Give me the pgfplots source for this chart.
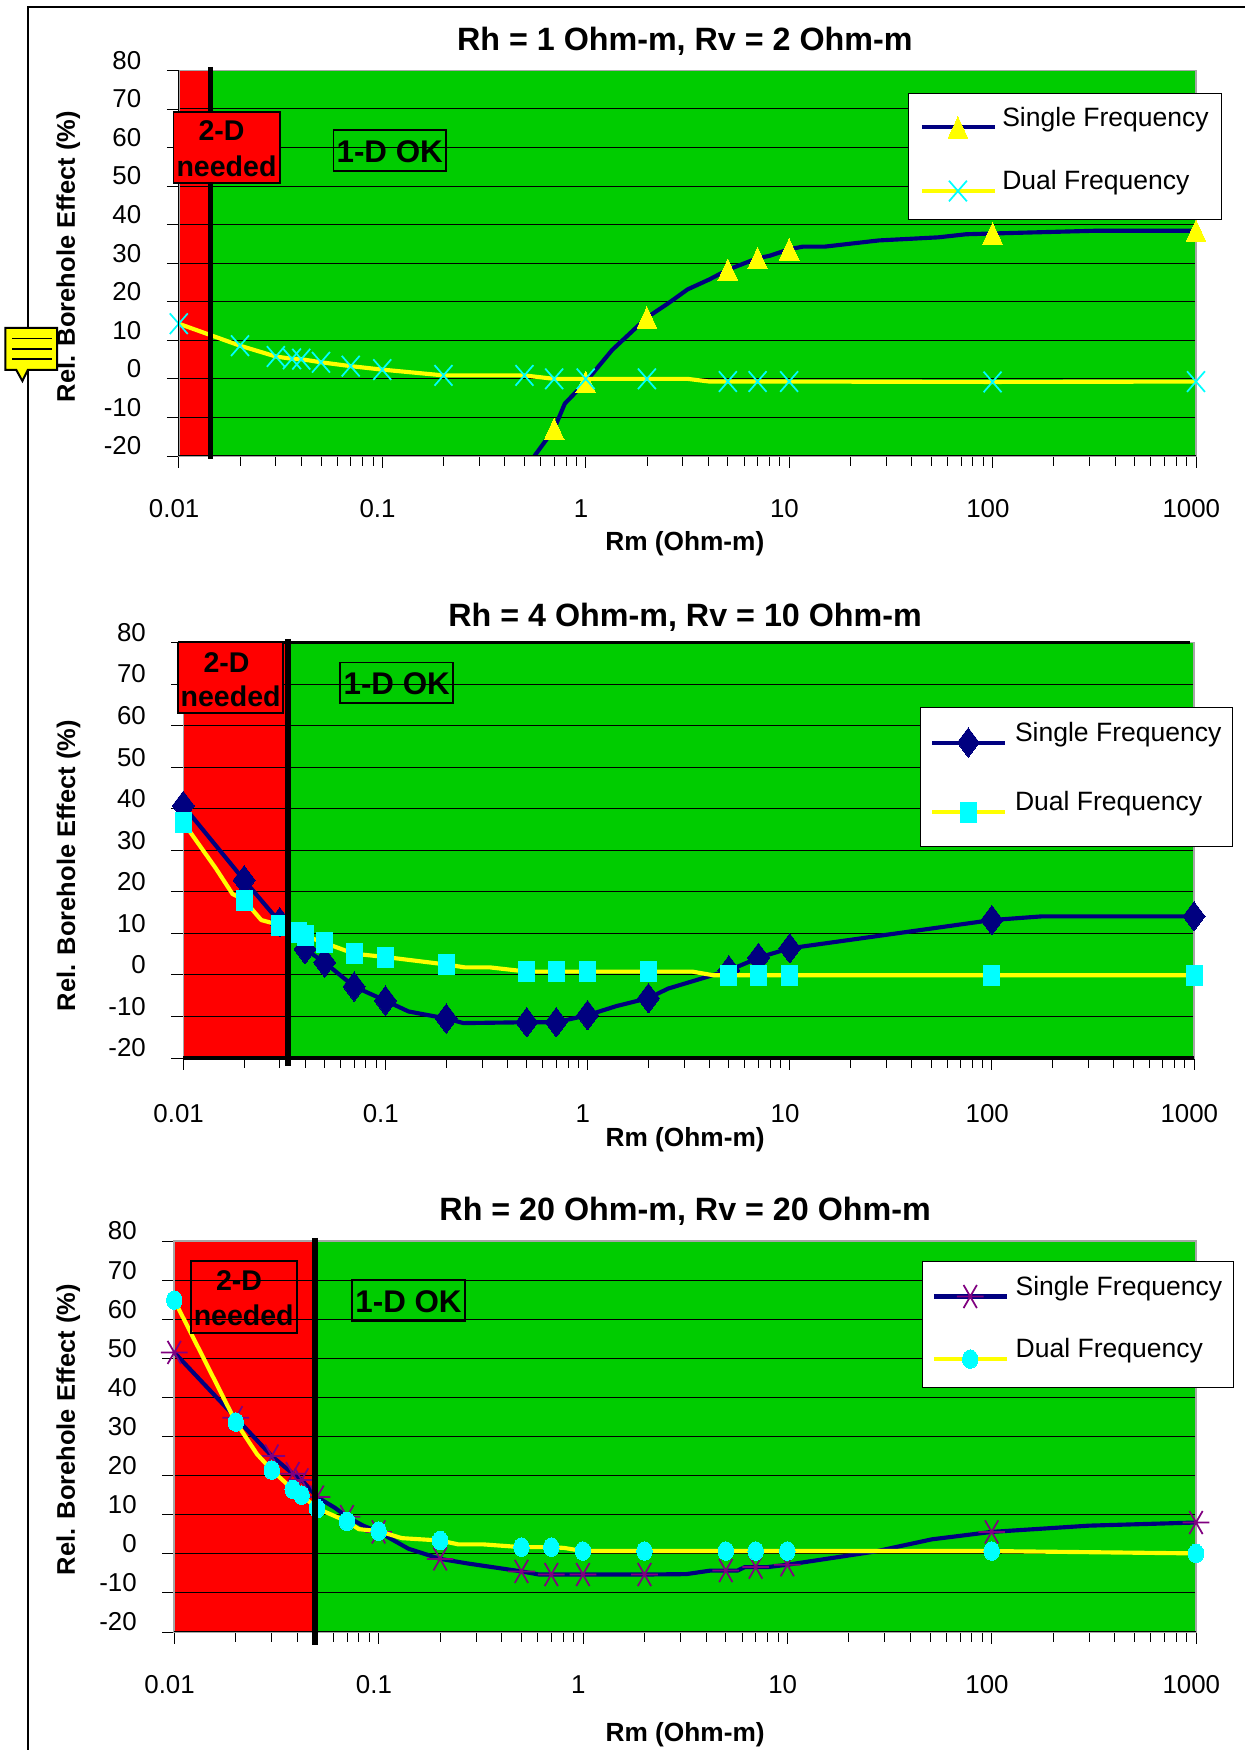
\documentclass[border=0pt]{standalone}
\usepackage{fontspec}
\setmainfont{Liberation Sans}
\usepackage{pgfplots}
\pgfplotsset{compat=1.18}
\pgfplotsset{clip mode=individual}
\definecolor{mygreen}{HTML}{00CC00}
\definecolor{navyl}{HTML}{000080}
\definecolor{purp}{HTML}{800080}
\definecolor{ylw}{HTML}{FFFF00}
\definecolor{cyn}{HTML}{00FFFF}
\definecolor{rd}{HTML}{FF0000}
\newcommand{\tfnt}{\fontsize{19.4}{22}\selectfont}
\newcommand{\legfnt}{\fontsize{19.9}{22}\selectfont}
\newcommand{\lfnt}{\bfseries\fontsize{19.7}{22}\selectfont}
\newcommand{\ylfnt}{\bfseries\fontsize{19.1}{22}\selectfont}
\newcommand{\hfnt}{\bfseries\fontsize{24.2}{28}\selectfont}
\def\legD{20pt}
\pgfplotsset{
  legend image code/.code={\path[draw=none,fill=none] (0pt,-\legD) rectangle (1pt,-\legD);\draw[mark repeat=2,mark phase=2,#1] plot coordinates {(0pt,-7.5pt)(27pt,-7.5pt)(54.5pt,-7.5pt)};},
  scale only axis,
  xmin=0.01, xmax=1000, ymin=-20, ymax=80,
  xtick={0.01,0.1,1,10,100,1000}, xticklabels={0.01,0.1,1,10,100,1000},
  ytick={-20,-10,0,10,20,30,40,50,60,70,80},
  yticklabels={-20,-10,0,10,20,30,40,50,60,70,80},
  minor y tick num=0,
  tick align=outside, xtick pos=bottom, ytick pos=left,
  major tick length=9pt, minor tick length=7.5pt,
  tick style={black,line width=0.6pt},
  ymajorgrids, major grid style={black,line width=0.75pt},
  axis line style={draw=gray!70,line width=1.2pt},
  tick label style={font=\tfnt,inner sep=0pt},
  yticklabel style={anchor=east,xshift=-19pt,yshift=7.5pt},
  xticklabel style={anchor=center,xshift=-3.5pt},
  legend cell align=left,
  legend style={anchor=north west,draw=black,line width=0.75pt,fill=white,font=\legfnt,inner xsep=8.5pt,inner ysep=9pt,column sep=3.2pt,nodes={inner sep=1pt}},
}
\begin{document}
\begin{tikzpicture}
\path[use as bounding box] (0,0) rectangle (933.75pt,1312.5pt);
\begin{scope}[x=0.75pt,y=-0.75pt,yshift=1312.5pt]
 \draw[black,line width=1.2pt] (27.8,1750) -- (27.8,7) -- (1245,7);
 \draw[black,line width=1.5pt,fill=ylw] (5.3,328) -- (57,328) -- (57,370) -- (27.8,370) -- (22.4,381) -- (16.3,370) -- (5.3,370) -- cycle;
 \foreach \y in {338.6,349,359} \draw[black,line width=1.3pt] (12,\y) -- (52,\y);
 % plot backgrounds
 \fill[mygreen] (178.8,70.4) rectangle (1196,456);
 \fill[rd] (178.8,70.4) rectangle (210.6,456);
 \fill[mygreen] (183.3,642.5) rectangle (1194,1058);
 \fill[rd] (183.3,642.5) rectangle (287.8,1058);
 \fill[mygreen] (174.3,1241) rectangle (1196,1632);
 \fill[rd] (174.3,1241) rectangle (315,1632);
\end{scope}

% ---------- Chart 1
\def\legD{20pt}
\begin{semilogxaxis}[at={(134.1pt,970.5pt)}, width=762.9pt, height=289.2pt, legend style={at={(0.7169,0.9414)},row sep=18.75pt},
  title={Rh = 1 Ohm-m, Rv = 2 Ohm-m}, title style={font=\hfnt,at={(axis description cs:0.4975,1.055)},anchor=center},
  xlabel={Rm (Ohm-m)}, xlabel style={font=\lfnt,at={(axis description cs:0.4975,-0.2265)},anchor=center},
  ylabel={Rel. Borehole Effect (\%)}, ylabel style={font=\ylfnt,at={(axis description cs:-0.1087,0.517)},anchor=center},
  xticklabel style={yshift=-30.5pt}, anchor=south west]
 \addplot[forget plot,navyl,line width=3.1pt,line join=round, mark=triangle*, mark size=10.7pt, mark indices={2,4,6,10,11,13,19,21},
   mark options={fill=ylw,draw=ylw,line width=0pt,xscale=0.8,yshift=-2.7pt}] coordinates {
  (0.56,-20)(0.7,-13)(0.79,-6.4)(1,-0.8)(1.35,7.5)(2,15.9)(2.53,19.5)(3.17,23.2)(4.06,25.8)(5,28.3)(7,31.3)(8,31.9)
  (10,33.6)(11.7,34.3)(15,34.3)(27.6,35.9)(54,36.7)(74,37.5)(100,37.7)(316,38.4)(1000,38.4)};
 \addplot[forget plot,ylw,line width=3.1pt,line join=round, mark=x, mark size=9.5pt, mark indices={1,2,3,4,5,6,7,8,9,10,11,12,13,16,17,18,19,20},
   mark options={draw=cyn,line width=1.3pt,yscale=1.15}] coordinates {
  (0.01,14.3)(0.02,8.6)(0.03,5.8)(0.036,5.2)(0.04,5.1)(0.05,4.3)(0.07,3.3)(0.1,2.4)(0.2,0.9)(0.5,0.9)(0.7,0)(1,0)(2,0)
  (3.17,0)(4.06,-0.7)(5,-0.7)(7,-0.7)(10,-0.7)(100,-0.8)(1000,-0.7)};
 \addlegendimage{navyl,line width=3.1pt,mark=triangle*, mark size=10.7pt,mark options={fill=ylw,draw=ylw,line width=0pt,xscale=0.8,yshift=-2.7pt}}
 \addlegendentry{Single Frequency}
 \addlegendimage{ylw,line width=3.1pt,mark=x, mark size=9.5pt,mark options={draw=cyn,line width=1.3pt,yscale=1.15}}
 \addlegendentry{Dual Frequency}
 \draw[black,line width=0.75pt] (rel axis cs:0,0) -- (rel axis cs:1,0);
 \draw[black,line width=0.75pt] (rel axis cs:0,0) -- (rel axis cs:0,1);
\end{semilogxaxis}

% ---------- Chart 2
\def\legD{23pt}
\begin{semilogxaxis}[at={(137.5pt,519pt)}, width=758pt, height=311.6pt, legend style={at={(0.7286,0.8452)},row sep=20.25pt,inner ysep=10pt,inner xsep=7.5pt,column sep=5pt},
  title={Rh = 4 Ohm-m, Rv = 10 Ohm-m}, title style={font=\hfnt,at={(axis description cs:0.4965,1.042)},anchor=center},
  xlabel={Rm (Ohm-m)}, xlabel style={font=\lfnt,at={(axis description cs:0.4965,-0.196)},anchor=center},
  ylabel={Rel. Borehole Effect (\%)}, ylabel style={font=\ylfnt,at={(axis description cs:-0.1137,0.463)},anchor=center},
  xticklabel style={yshift=-33pt}, anchor=south west]
 \addplot[forget plot,navyl,line width=3.1pt,line join=round, mark=diamond*, mark size=11pt, mark indices={1,2,3,4,5,6,7,9,11,12,13,15,17,18,20,21,23},
   mark options={fill=navyl,draw=navyl,line width=0pt}] coordinates {
  (0.01,40.7)(0.02,22.8)(0.03,12.7)(0.04,6.2)(0.05,3)(0.07,-2.8)(0.1,-6.2)(0.13,-8.8)(0.2,-10.5)(0.243,-11.6)(0.5,-11.4)(0.7,-11.4)
  (1,-9.7)(1.39,-7.5)(2,-5.6)(2.5,-3.3)(5,1.1)(7,4.1)(7.76,4.8)(10,6.4)(100,13.2)(178,14.1)(1000,14.1)};
 \addplot[forget plot,ylw,line width=3.1pt,line join=round, mark=square*, mark size=6pt, mark indices={1,4,6,7,8,9,10,11,12,15,16,17,18,21,22,23,24,25},
   mark options={fill=cyn,draw=cyn,line width=0pt,yscale=1.25}] coordinates {
  (0.01,36.7)(0.0145,25.6)(0.0175,19.5)(0.02,18)(0.0243,13.2)(0.03,12)(0.037,10.3)(0.04,9.4)(0.05,7.7)(0.07,5.1)(0.1,4.3)(0.2,2.5)
  (0.248,1.8)(0.33,1.8)(0.5,0.8)(0.7,0.8)(1,0.8)(2,0.8)(3.29,0.8)(4.2,-0.1)(5,-0.1)(7,-0.1)(10,-0.1)(100,-0.1)(1000,-0.1)};
 \addlegendimage{navyl,line width=3.1pt,mark=diamond*, mark size=11pt,mark options={fill=navyl,draw=navyl,line width=0pt}}
 \addlegendentry{Single Frequency}
 \addlegendimage{ylw,line width=3.1pt,mark=square*, mark size=6pt,mark options={fill=cyn,draw=cyn,line width=0pt,yscale=1.25}}
 \addlegendentry{Dual Frequency}
 \draw[black,line width=2.4pt] (rel axis cs:0,0) -- (rel axis cs:1,0);
 \draw[black,line width=2.4pt] ([xshift=-3.7pt]rel axis cs:0,1) -- (rel axis cs:0.9958,1);
\end{semilogxaxis}

% ---------- Chart 3
\def\legD{19pt}
\begin{semilogxaxis}[at={(130.7pt,88.5pt)}, width=766.3pt, height=293.25pt, legend style={at={(0.7315,0.9478)},row sep=19pt,inner ysep=9.5pt,inner xsep=7.5pt,column sep=4pt},
  title={Rh = 20 Ohm-m, Rv = 20 Ohm-m}, title style={font=\hfnt,at={(axis description cs:0.5,1.056)},anchor=center},
  xlabel={Rm (Ohm-m)}, xlabel style={font=\lfnt,at={(axis description cs:0.5,-0.2615)},anchor=center},
  ylabel={Rel. Borehole Effect (\%)}, ylabel style={font=\ylfnt,at={(axis description cs:-0.1037,0.517)},anchor=center},
  xticklabel style={yshift=-30.5pt}, anchor=south west]
 \addplot[forget plot,navyl,line width=3.1pt,line join=round, mark=asterisk, mark size=10pt, mark indices={1,2,3,4,5,6,8,10,12,14,16,17,18,21,24,26,29,31},
   mark options={draw=purp,line width=1.3pt,rotate=90}] coordinates {
  (0.01,51.5)(0.02,34.8)(0.03,25)(0.038,20.5)(0.042,18.9)(0.05,14.5)(0.061,11.8)(0.07,9.5)(0.084,7.2)(0.1,5.6)(0.14,1.3)(0.2,-1.3)
  (0.275,-2.5)(0.5,-4.5)(0.61,-5.3)(0.7,-5.3)(1,-5.3)(2,-5.3)(3.2,-5.2)(4.2,-4.3)(5,-4.3)(5.7,-4.3)(6.2,-3.4)(7,-3.4)(8,-3.4)(10,-2.8)
  (27,0.6)(51,3.7)(100,5.6)(300,7.2)(1000,8)};
 \addplot[forget plot,ylw,line width=3.1pt,line join=round, mark=*, mark size=5.8pt, mark indices={1,2,4,5,6,7,8,10,12,15,16,18,19,20,21,22,23,24},
   mark options={fill=cyn,draw=cyn,line width=0pt,yscale=1.2}] coordinates {
  (0.01,64.9)(0.02,33.7)(0.0254,25.5)(0.03,21.4)(0.038,16.5)(0.042,15)(0.05,11.6)(0.07,8.3)(0.08,6.3)(0.1,5.8)(0.13,4)(0.2,3.4)
  (0.246,2.4)(0.327,2.4)(0.5,1.7)(0.7,1.7)(0.81,1.5)(1,0.7)(2,0.7)(5,0.7)(7,0.7)(10,0.7)(100,0.7)(1000,0.1)};
 \addlegendimage{navyl,line width=3.1pt,mark=asterisk, mark size=10pt,mark options={draw=purp,line width=1.3pt,rotate=90}}
 \addlegendentry{Single Frequency}
 \addlegendimage{ylw,line width=3.1pt,mark=*, mark size=5.8pt,mark options={fill=cyn,draw=cyn,line width=0pt,yscale=1.2}}
 \addlegendentry{Dual Frequency}
 \draw[black,line width=0.75pt] (rel axis cs:0,0) -- (rel axis cs:1,0);
\end{semilogxaxis}

% ---------- annotations, in reference pixels
\begin{scope}[x=0.75pt,y=-0.75pt,yshift=1312.5pt]
 \tikzset{bx/.style={draw=black,line width=1.4pt},
   tw/.style={font=\bfseries\fontsize{21.4}{24}\selectfont,inner sep=0pt},
   tone/.style={font=\bfseries\fontsize{23.5}{26}\selectfont,inner sep=0pt}}
 % black boundary lines
 \draw[black,line width=4.2pt] (210.6,67) -- (210.6,459);
 \draw[black,line width=4.2pt] (287.8,639) -- (287.8,1066);
 \draw[black,line width=4.2pt] (315,1238) -- (315,1645);
 % chart 1
 \fill[rd] (173.5,112) rectangle (279.6,183); \draw[bx] (173.5,112) rectangle (279.6,183);
 \node[tw] at (221.6,131) {2-D}; \node[tw] at (226.5,166) {needed};
 \draw[bx] (333.5,130) rectangle (446,171); \node[tone] at (389.7,152) {1-D OK};
 % chart 2
 \fill[rd] (178.4,642.5) rectangle (283,713); \draw[bx] (178.4,642.5) rectangle (283,713);
 \node[tw] at (226.5,662.5) {2-D}; \node[tw] at (230.6,696) {needed};
 \draw[bx] (340.4,662.5) rectangle (453,703); \node[tone] at (396.7,684) {1-D OK};
 % chart 3
 \draw[bx] (191.4,1261.4) rectangle (297,1333);
 \node[tw] at (239,1281) {2-D}; \node[tw] at (243.7,1315) {needed};
 \draw[bx] (352,1280) rectangle (465,1321); \node[tone] at (408.5,1302) {1-D OK};
\end{scope}
\end{tikzpicture}
\end{document}
